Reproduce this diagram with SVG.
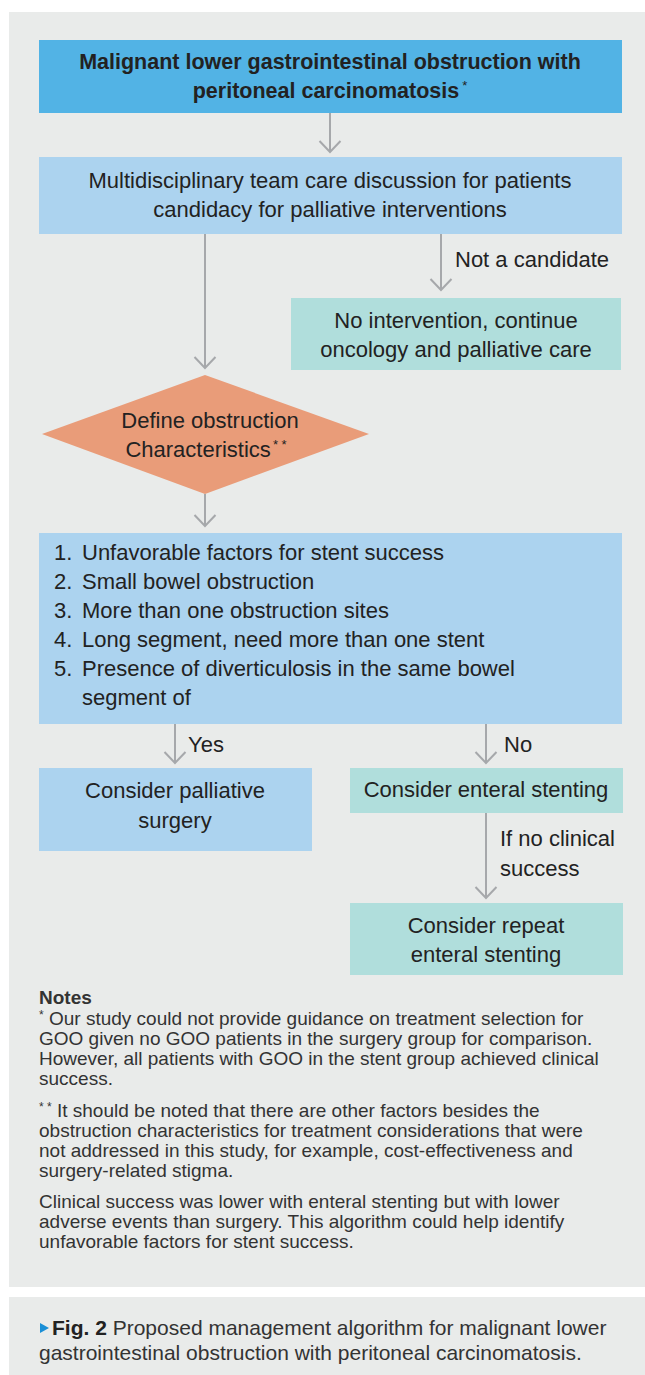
<svg xmlns="http://www.w3.org/2000/svg" width="645" height="1375" viewBox="0 0 645 1375">
<defs>
<marker id="ah" markerUnits="userSpaceOnUse" markerWidth="14" markerHeight="24" viewBox="0 0 14 24" refX="12" refY="12" orient="auto">
<path d="M1,1.5 L12,12 L1,22.5" fill="none" stroke="#a6a8ab" stroke-width="2"/>
</marker>
<style>
.t{font-family:"Liberation Sans",Arial,sans-serif;font-size:22px;fill:#222;}
.b{font-weight:bold;font-size:21.5px;}
.c{text-anchor:middle;}
.n{font-family:"Liberation Sans",Arial,sans-serif;font-size:19px;fill:#333;}
.cap{font-family:"Liberation Sans",Arial,sans-serif;font-size:21px;fill:#333;}
.ln{stroke:#a6a8ab;stroke-width:2;fill:none;marker-end:url(#ah);}
.blue{fill:#52b3e5;}
.lb{fill:#acd3ef;}
.teal{fill:#b0dedc;}
.sup{font-size:13px;}
</style>
</defs>
<rect x="0" y="0" width="645" height="1375" fill="#ffffff"/>
<rect x="9" y="12" width="636" height="1275" fill="#e9ebea"/>
<rect x="9" y="1297" width="636" height="78" fill="#e9ebea"/>

<g id="connectors">
<line class="ln" x1="330" y1="113" x2="330" y2="152"/>
<line class="ln" x1="205" y1="234" x2="205" y2="368"/>
<line class="ln" x1="441" y1="234" x2="441" y2="290"/>
<text class="t" x="455" y="267">Not a candidate</text>
<line class="ln" x1="205" y1="494" x2="205" y2="526"/>
<line class="ln" x1="175" y1="724" x2="175" y2="763"/>
<text class="t" x="188" y="752">Yes</text>
<line class="ln" x1="486" y1="724" x2="486" y2="763"/>
<text class="t" x="504" y="752">No</text>
<line class="ln" x1="486" y1="813" x2="486" y2="898"/>
<text class="t" x="500" y="846">If no clinical</text>
<text class="t" x="500" y="876">success</text>
</g>

<g id="n-start">
<rect class="blue" x="39" y="40" width="583" height="73"/>
<text class="t b c" x="330" y="69">Malignant lower gastrointestinal obstruction with</text>
<text class="t b c" x="330" y="98">peritoneal carcinomatosis<tspan class="sup" font-weight="normal" dx="3" dy="-8">*</tspan></text>
</g>

<g id="n-mdt">
<rect class="lb" x="39" y="157" width="583" height="77"/>
<text class="t c" x="330" y="188">Multidisciplinary team care discussion for patients</text>
<text class="t c" x="330" y="217">candidacy for palliative interventions</text>
</g>

<g id="n-nointervention">
<rect class="teal" x="291" y="298" width="330" height="72"/>
<text class="t c" x="456" y="328">No intervention, continue</text>
<text class="t c" x="456" y="357">oncology and palliative care</text>
</g>

<g id="n-define">
<polygon fill="#e99c79" points="205,375 369,434 205,494 42,434"/>
<text class="t c" x="210" y="428">Define obstruction</text>
<text class="t c" x="206" y="457">Characteristics<tspan class="sup" dx="2" dy="-8">* *</tspan></text>
</g>

<g id="n-factors">
<rect class="lb" x="39" y="533" width="583" height="191"/>
<text class="t" x="54" y="560">1.</text><text class="t" x="82" y="560">Unfavorable factors for stent success</text>
<text class="t" x="54" y="589">2.</text><text class="t" x="82" y="589">Small bowel obstruction</text>
<text class="t" x="54" y="618">3.</text><text class="t" x="82" y="618">More than one obstruction sites</text>
<text class="t" x="54" y="647">4.</text><text class="t" x="82" y="647">Long segment, need more than one stent</text>
<text class="t" x="54" y="676">5.</text><text class="t" x="82" y="676">Presence of diverticulosis in the same bowel</text>
<text class="t" x="82" y="705">segment of</text>
</g>

<g id="n-surgery">
<rect class="lb" x="39" y="768" width="273" height="83"/>
<text class="t c" x="175" y="798">Consider palliative</text>
<text class="t c" x="175" y="828">surgery</text>
</g>

<g id="n-stent">
<rect class="teal" x="350" y="768" width="273" height="45"/>
<text class="t c" x="486" y="797">Consider enteral stenting</text>
</g>

<g id="n-repeat">
<rect class="teal" x="350" y="903" width="273" height="72"/>
<text class="t c" x="486" y="933">Consider repeat</text>
<text class="t c" x="486" y="962">enteral stenting</text>
</g>

<g id="notes">
<text class="n" x="39" y="1004" font-weight="bold" fill="#222">Notes</text>
<text class="n" x="39" y="1025"><tspan font-size="12" dy="-6">*</tspan><tspan dy="6"> Our study could not provide guidance on treatment selection for</tspan></text>
<text class="n" x="39" y="1045">GOO given no GOO patients in the surgery group for comparison.</text>
<text class="n" x="39" y="1065">However, all patients with GOO in the stent group achieved clinical</text>
<text class="n" x="39" y="1085">success.</text>
<text class="n" x="39" y="1117"><tspan font-size="12" dy="-6">* *</tspan><tspan dy="6"> It should be noted that there are other factors besides the</tspan></text>
<text class="n" x="39" y="1137">obstruction characteristics for treatment considerations that were</text>
<text class="n" x="39" y="1157">not addressed in this study, for example, cost-effectiveness and</text>
<text class="n" x="39" y="1177">surgery-related stigma.</text>
<text class="n" x="39" y="1208">Clinical success was lower with enteral stenting but with lower</text>
<text class="n" x="39" y="1228">adverse events than surgery. This algorithm could help identify</text>
<text class="n" x="39" y="1248">unfavorable factors for stent success.</text>
</g>

<g id="caption">
<polygon points="40,1323 49,1328 40,1333" fill="#1a8fd6"/>
<text class="cap" x="52" y="1335"><tspan font-weight="bold" fill="#222">Fig. 2</tspan>  Proposed management algorithm for malignant lower</text>
<text class="cap" x="39" y="1360">gastrointestinal obstruction with peritoneal carcinomatosis.</text>
</g>
</svg>
